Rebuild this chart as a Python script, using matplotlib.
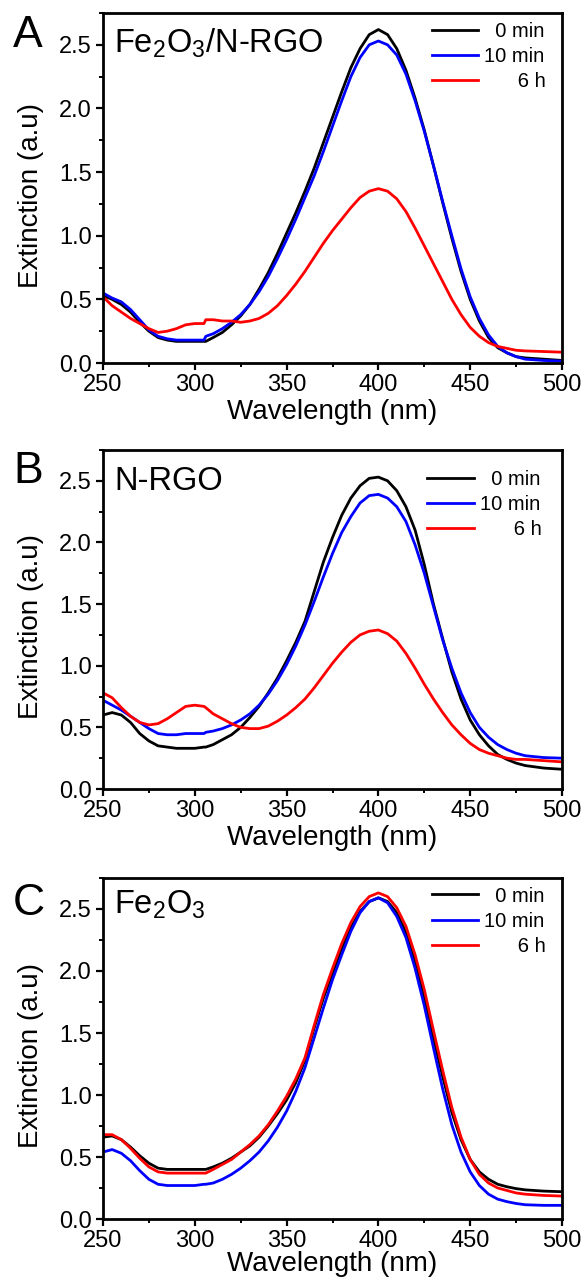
import matplotlib
matplotlib.use('Agg')
import matplotlib.pyplot as plt
from matplotlib.ticker import MultipleLocator

plt.rcParams['font.family'] = ['Liberation Sans', 'DejaVu Sans']
plt.rcParams['mathtext.fontset'] = 'custom'
plt.rcParams['mathtext.rm'] = 'Liberation Sans'

# wavelength grid (nm), shared by all curves
wavelength = [250, 255, 260, 265, 270, 275, 280, 285, 290, 295, 300, 305, 306, 310, 315,
              320, 325, 330, 335, 340, 345, 350, 355, 360, 365, 370, 375, 380, 385, 390,
              395, 400, 405, 410, 415, 420, 425, 430, 435, 440, 445, 450, 455, 460, 465,
              470, 475, 480, 490, 500]

legend_labels = ['  0 min', '10 min', '      6 h']
panel_letters = ['A', 'B', 'C']
sample_names = [r'Fe$_2$O$_3$/N-RGO', 'N-RGO', r'Fe$_2$O$_3$']

# A: Fe2O3/N-RGO
a_0min = [0.53, 0.50, 0.46, 0.40, 0.32, 0.25, 0.20, 0.18, 0.17, 0.17, 0.17, 0.17, 0.17, 0.20, 0.24,
          0.30, 0.37, 0.46, 0.58, 0.71, 0.86, 1.02, 1.18, 1.35, 1.53, 1.73, 1.93, 2.13, 2.32, 2.47,
          2.58, 2.62, 2.58, 2.47, 2.30, 2.08, 1.83, 1.55, 1.26, 0.98, 0.72, 0.50, 0.33, 0.20, 0.12,
          0.08, 0.05, 0.04, 0.03, 0.02]
a_10min = [0.55, 0.51, 0.48, 0.42, 0.34, 0.26, 0.21, 0.19, 0.18, 0.18, 0.18, 0.18, 0.21, 0.23, 0.27,
           0.32, 0.38, 0.46, 0.56, 0.68, 0.82, 0.97, 1.13, 1.30, 1.47, 1.66, 1.86, 2.06, 2.25, 2.40,
           2.50, 2.53, 2.50, 2.42, 2.27, 2.06, 1.82, 1.55, 1.27, 1.00, 0.74, 0.52, 0.35, 0.22, 0.13,
           0.08, 0.05, 0.03, 0.02, 0.015]
a_6h = [0.52, 0.45, 0.40, 0.35, 0.31, 0.27, 0.24, 0.25, 0.27, 0.30, 0.31, 0.31, 0.34, 0.34, 0.33,
        0.33, 0.32, 0.33, 0.35, 0.39, 0.45, 0.53, 0.62, 0.72, 0.83, 0.94, 1.04, 1.13, 1.22, 1.30,
        1.35, 1.37, 1.35, 1.29, 1.19, 1.06, 0.92, 0.78, 0.64, 0.50, 0.38, 0.28, 0.21, 0.16, 0.13,
        0.115, 0.10, 0.095, 0.09, 0.085]

# B: N-RGO
b_0min = [0.60, 0.62, 0.60, 0.54, 0.45, 0.39, 0.35, 0.34, 0.33, 0.33, 0.33, 0.34, 0.34, 0.36, 0.40,
          0.44, 0.50, 0.58, 0.67, 0.78, 0.90, 1.04, 1.19, 1.36, 1.60, 1.84, 2.04, 2.22, 2.36, 2.46,
          2.52, 2.53, 2.50, 2.42, 2.29, 2.10, 1.82, 1.50, 1.22, 0.95, 0.73, 0.56, 0.44, 0.35, 0.28,
          0.24, 0.21, 0.19, 0.17, 0.16]
b_10min = [0.72, 0.68, 0.64, 0.59, 0.54, 0.49, 0.45, 0.44, 0.44, 0.45, 0.45, 0.45, 0.46, 0.47, 0.49,
           0.52, 0.56, 0.61, 0.68, 0.77, 0.88, 1.01, 1.16, 1.33, 1.52, 1.72, 1.91, 2.08, 2.21, 2.32,
           2.38, 2.39, 2.36, 2.29, 2.17, 1.98, 1.75, 1.48, 1.21, 0.98, 0.78, 0.62, 0.50, 0.42, 0.36,
           0.32, 0.29, 0.27, 0.255, 0.25]
b_6h = [0.78, 0.74, 0.66, 0.59, 0.54, 0.52, 0.53, 0.57, 0.62, 0.67, 0.68, 0.67, 0.66, 0.61, 0.57,
        0.53, 0.50, 0.49, 0.49, 0.51, 0.55, 0.60, 0.66, 0.73, 0.82, 0.92, 1.02, 1.11, 1.19, 1.25,
        1.28, 1.29, 1.26, 1.20, 1.10, 0.98, 0.85, 0.73, 0.62, 0.52, 0.44, 0.37, 0.32, 0.29, 0.27,
        0.25, 0.24, 0.24, 0.23, 0.22]

# C: Fe2O3
c_0min = [0.66, 0.67, 0.64, 0.58, 0.51, 0.45, 0.41, 0.40, 0.40, 0.40, 0.40, 0.40, 0.40, 0.42, 0.45,
          0.49, 0.54, 0.59, 0.66, 0.75, 0.85, 0.96, 1.10, 1.28, 1.54, 1.78, 1.98, 2.18, 2.35, 2.48,
          2.56, 2.59, 2.56, 2.47, 2.31, 2.08, 1.79, 1.46, 1.15, 0.86, 0.64, 0.48, 0.38, 0.32, 0.28,
          0.26, 0.245, 0.235, 0.225, 0.22]
c_10min = [0.54, 0.56, 0.53, 0.47, 0.39, 0.32, 0.28, 0.27, 0.27, 0.27, 0.27, 0.28, 0.28, 0.29, 0.32,
           0.36, 0.41, 0.47, 0.54, 0.63, 0.74, 0.87, 1.03, 1.22, 1.46, 1.70, 1.93, 2.13, 2.32, 2.47,
           2.56, 2.59, 2.55, 2.44, 2.27, 2.02, 1.72, 1.38, 1.05, 0.76, 0.54, 0.38, 0.27, 0.20, 0.16,
           0.14, 0.125, 0.115, 0.11, 0.11]
c_6h = [0.68, 0.68, 0.64, 0.57, 0.49, 0.42, 0.38, 0.37, 0.37, 0.37, 0.37, 0.37, 0.37, 0.40, 0.44,
        0.48, 0.54, 0.60, 0.67, 0.76, 0.87, 0.99, 1.13, 1.30, 1.56, 1.81, 2.02, 2.22, 2.39, 2.52,
        2.60, 2.63, 2.60, 2.51, 2.36, 2.13, 1.85, 1.52, 1.20, 0.90, 0.66, 0.48, 0.36, 0.29, 0.25,
        0.23, 0.21, 0.20, 0.19, 0.185]

panels = [(a_0min, a_10min, a_6h), (b_0min, b_10min, b_6h), (c_0min, c_10min, c_6h)]
colors = ['#000000', '#0000FF', '#FF0000']

fig = plt.figure(figsize=(5.84, 12.81), dpi=100)
W, H = 584.0, 1281.0
# axes boxes in pixels: left, top, right, bottom
boxes = [(103, 13, 562, 363), (103, 450, 562, 789), (103, 878, 562, 1219)]
letter_base = [47, 483, 915]
name_y = [0.889, 0.882, 0.897]
legend_anchor = [(0.965, 0.975), (0.955, 0.94), (0.965, 0.975)]
xlabel_drop = [36, 36, 32]  # px below the axis

for i, (l, t, r, b) in enumerate(boxes):
    ax = fig.add_axes([l / W, 1 - b / H, (r - l) / W, (b - t) / H])
    for ys, c, lab in zip(panels[i], colors, legend_labels):
        ax.plot(wavelength, ys, color=c, lw=2.0, label=lab, solid_joinstyle='round')
    ax.set_xlim(250, 500)
    ax.set_ylim(0, 2.75)
    ax.xaxis.set_major_locator(MultipleLocator(50))
    ax.xaxis.set_minor_locator(MultipleLocator(25))
    ax.yaxis.set_major_locator(MultipleLocator(0.5))
    ax.yaxis.set_minor_locator(MultipleLocator(0.25))
    ax.yaxis.set_major_formatter(plt.FormatStrFormatter('%.1f'))
    ax.tick_params(which='major', direction='out', length=5, width=1.6, labelsize=17, pad=3)
    ax.tick_params(which='minor', direction='out', length=3, width=1.4)
    for s in ax.spines.values():
        s.set_linewidth(2.0)
    ax.set_xlabel('Wavelength (nm)', fontsize=20)
    ax.set_ylabel('Extinction (a.u)', fontsize=20)
    ax.xaxis.set_label_coords(0.5, -xlabel_drop[i] / (b - t))
    ax.yaxis.set_label_coords(-0.128, 0.48)
    ax.text(0.024, name_y[i], sample_names[i], transform=ax.transAxes, fontsize=23.5,
            ha='left', va='baseline')
    ax.legend(loc='upper right', bbox_to_anchor=legend_anchor[i], frameon=False,
              fontsize=14.5, handlelength=2.3, handletextpad=0.3, labelspacing=0.3,
              borderpad=0, borderaxespad=0)
    fig.text(13 / W, 1 - letter_base[i] / H, panel_letters[i], fontsize=32,
             ha='left', va='baseline')

fig.savefig('out.png', dpi=100)
